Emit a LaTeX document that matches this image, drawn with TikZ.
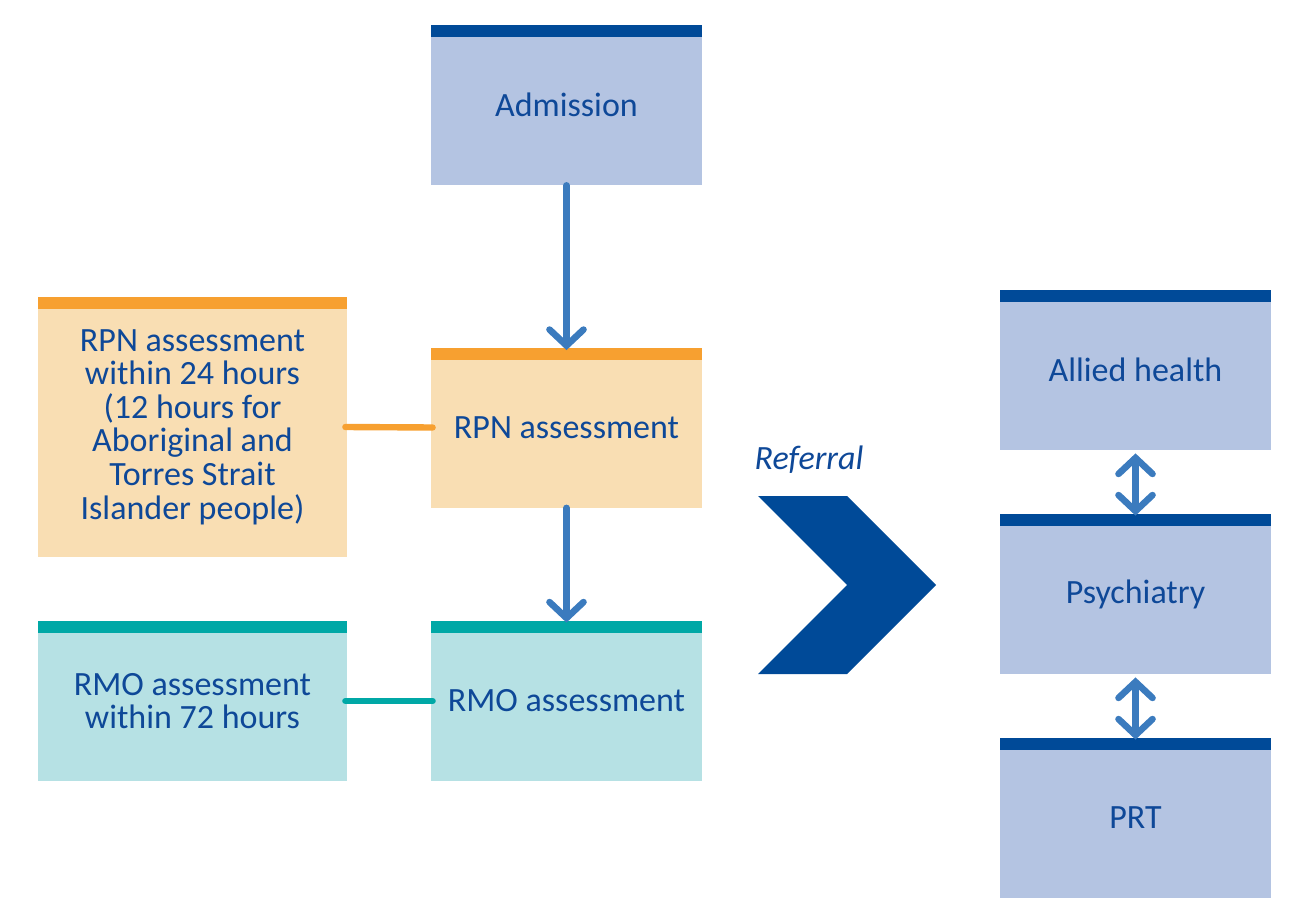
\documentclass[tikz,border=0pt]{standalone}
\usepackage{fontspec}
\setmainfont{Carlito}
\usetikzlibrary{arrows.meta}

\definecolor{barblue}{RGB}{0,74,152}
\definecolor{boxblue}{RGB}{180,196,226}
\definecolor{barorange}{RGB}{247,160,48}
\definecolor{boxorange}{RGB}{249,222,179}
\definecolor{barteal}{RGB}{0,168,166}
\definecolor{boxteal}{RGB}{182,225,228}
\definecolor{arrowblue}{RGB}{59,123,190}
\definecolor{txtblue}{RGB}{14,72,152}

\tikzset{
  card/.style={rectangle, inner sep=0pt, minimum width=135.5pt, minimum height=80pt,
    text=txtblue, align=center, font=\fontsize{17}{16.8}\selectfont,
    path picture={\fill[#1] (path picture bounding box.north west) rectangle ([yshift=-6pt]path picture bounding box.north east);}},
  bluecard/.style={card=barblue, fill=boxblue},
  orangecard/.style={card=barorange, fill=boxorange},
  tealcard/.style={card=barteal, fill=boxteal},
  flow/.style={arrowblue, line width=3.3pt, line cap=round,
    -{Straight Barb[length=8pt, width=17pt, line cap=round]}},
  twoway/.style={flow, {Straight Barb[length=8pt, width=17pt, line cap=round]}-{Straight Barb[length=8pt, width=17pt, line cap=round]}},
  link/.style={line width=3.2pt, line cap=round}
}

\begin{document}
\begin{tikzpicture}[x=0.5pt, y=-0.5pt]

	% Marco de la figura
	\useasboundingbox (0,0) rectangle (1304,919);

	% Columna central
	\node[bluecard] (adm) at (566.5,105) {Admission};
	\node[orangecard] (rpn) at (566.5,427.5) {RPN assessment};
	\node[tealcard] (rmo) at (566.5,701) {RMO assessment};

	% Notas de plazos a la izquierda
	\node[orangecard, minimum width=154.5pt, minimum height=130pt] (rpnnote) at (192.5,427)
		{RPN assessment\\within 24 hours\\(12 hours for\\Aboriginal and\\Torres Strait\\Islander people)};
	\node[tealcard, minimum width=154.5pt] (rmonote) at (192.5,701)
		{RMO assessment\\within 72 hours};

	% Equipos a la derecha
	\node[bluecard] (allied) at (1135.5,370) {Allied health};
	\node[bluecard] (psych) at (1135.5,594) {Psychiatry};
	\node[bluecard] (prt) at (1135.5,818) {PRT};

	% Flechas
	\draw[flow] (adm) -- ([yshift=-1.5pt]rpn.north);
	\draw[flow] (rpn) -- ([yshift=-1pt]rmo.north);
	\draw[twoway] ([yshift=-1.5pt]allied.south) -- ([yshift=-1pt]psych.north);
	\draw[twoway] ([yshift=-1.5pt]psych.south) -- ([yshift=-1pt]prt.north);

	% Conectores con las notas
	\draw[link, barorange] ([xshift=-1pt]rpnnote.east) -- ([xshift=1pt]rpn.west);
	\draw[link, barteal] ([xshift=-1pt]rmonote.east) -- ([xshift=1pt]rmo.west);

	% Derivación (chevron)
	\fill[barblue] (758,496) -- (847,496) -- (936,585) -- (847,674) -- (758,674) -- (847,585) -- cycle;
	\node[text=txtblue, font=\fontsize{17}{16.8}\selectfont\itshape] (referral) at (809,460) {Referral};

\end{tikzpicture}
\end{document}
